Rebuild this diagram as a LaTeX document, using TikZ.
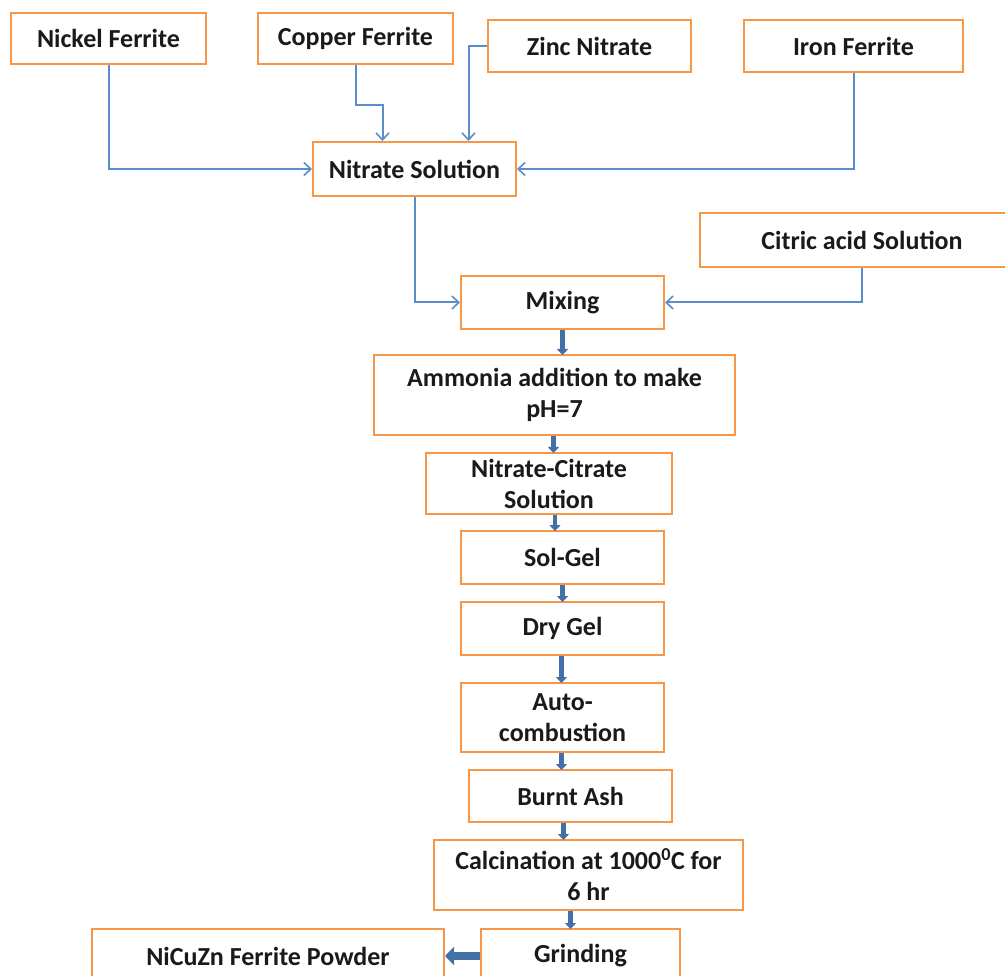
\documentclass[tikz,border=0pt]{standalone}
\usepackage{fontspec}
\setmainfont{Carlito}
\usetikzlibrary{arrows.meta}
\definecolor{boxorange}{HTML}{F79646}
\definecolor{lineblue}{HTML}{5B8CCB}
\definecolor{thickblue}{HTML}{4470A8}
\definecolor{txt}{HTML}{1A1A1A}
\tikzset{
  box/.style={draw=boxorange, line width=2pt, fill=white, inner sep=0pt, align=center,
    text=txt, font=\fontsize{26}{31}\selectfont\bfseries},
  feed/.style={draw=lineblue, line width=2pt, -{Straight Barb[length=7pt,width=13pt,line width=1.6pt]}},
  flow/.style={draw=thickblue, line width=4.5pt, -{Triangle[length=6pt,width=11pt]}, shorten >=-1pt},
  bigflow/.style={draw=thickblue, line width=8pt, -{Triangle[length=9pt,width=18pt]}}
}
\begin{document}
\begin{tikzpicture}[x=1pt,y=-1pt]
\useasboundingbox (0,0) rectangle (1005,976);
% boxes
\node[box, minimum width=195pt, minimum height=51pt] (nickel) at (108.5,38.5) {Nickel Ferrite};
\node[box, minimum width=195pt, minimum height=51pt] (copper) at (355.5,38.5) {Copper Ferrite};
\node[box, minimum width=203pt, minimum height=52pt] (zinc) at (589.5,46) {Zinc Nitrate};
\node[box, minimum width=219pt, minimum height=52pt] (iron) at (853.5,46) {Iron Ferrite};
\node[box, minimum width=203pt, minimum height=54pt] (ns) at (414.5,169) {Nitrate Solution};
\node[box, minimum width=324pt, minimum height=54pt] (cit) at (862,240) {Citric acid Solution};
\node[box, minimum width=203pt, minimum height=53pt] (mix) at (562.5,302.5) {Mixing};
\node[box, minimum width=361pt, minimum height=80pt] (amm) at (554.5,395) {Ammonia addition to make\\pH=7};
\node[box, minimum width=246pt, minimum height=61pt] (nc) at (549,483.5) {Nitrate-Citrate\\Solution};
\node[box, minimum width=203pt, minimum height=53pt] (sg) at (562.5,557.5) {Sol-Gel};
\node[box, minimum width=203pt, minimum height=53pt] (dg) at (562.5,628.5) {Dry Gel};
\node[box, minimum width=203pt, minimum height=69pt] (ac) at (562.5,717.5) {Auto-\\combustion};
\node[box, minimum width=203pt, minimum height=52pt] (ba) at (570.5,796) {Burnt Ash};
\node[box, minimum width=309pt, minimum height=70pt] (calc) at (588.5,875) {Calcination at 1000$^{\mathbf{0}}$C for\\6 hr};
\node[box, minimum width=199pt, minimum height=54pt] (grind) at (580.5,956) {Grinding};
\node[box, minimum width=352pt, minimum height=54pt] (powder) at (268,956) {NiCuZn Ferrite Powder};
% feed connectors
\draw[feed] (nickel.south) |- (ns.west);
\draw[feed] (copper.south) -- ++(0,40) -| ([xshift=-32pt]ns.north);
\draw[feed] (zinc.west) -| ([xshift=54pt]ns.north);
\draw[feed] (iron.south) |- (ns.east);
\draw[feed] (ns.south) |- (mix.west);
\draw[feed] (cit.south) |- (mix.east);
% process flow
\draw[flow] (mix.south) -- (mix.south |- amm.north);
\draw[flow] ([xshift=-1pt]amm.south) -- ([xshift=-1pt]amm.south |- nc.north);
\draw[flow] ([xshift=6pt]nc.south) -- ([xshift=6pt]nc.south |- sg.north);
\draw[flow] (sg.south) -- (sg.south |- dg.north);
\draw[flow] ([xshift=-1pt]dg.south) -- ([xshift=-1pt]dg.south |- ac.north);
\draw[flow] ([xshift=-1pt]ac.south) -- ([xshift=-1pt]ac.south |- ba.north);
\draw[flow] ([xshift=-7pt]ba.south) -- ([xshift=-7pt]ba.south |- calc.north);
\draw[flow] ([xshift=-18pt]calc.south) -- ([xshift=-18pt]calc.south |- grind.north);
\draw[bigflow] (grind.west) -- (powder.east);
\end{tikzpicture}
\end{document}
